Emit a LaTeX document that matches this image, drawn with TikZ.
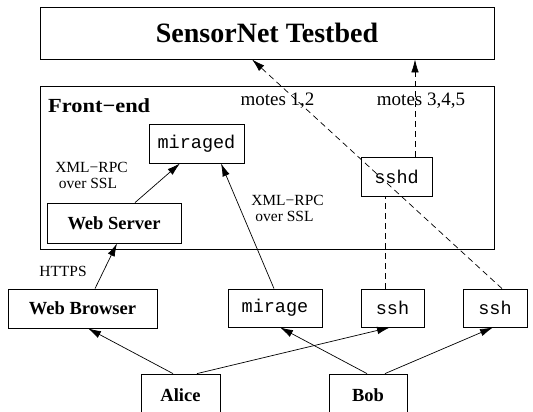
\documentclass[tikz,border=0pt]{standalone}
\usepackage{fontspec}
\setmainfont{Liberation Serif}
\setmonofont{Liberation Mono}
\usetikzlibrary{arrows.meta}
\begin{document}
\begin{tikzpicture}[x=1pt,y=-1pt,
  box/.style={draw, line width=0.8pt, inner sep=0pt},
  bl/.style={font=\fontsize{18.5}{20}\selectfont\bfseries},
  tt/.style={font=\fontsize{18.5}{20}\selectfont\ttfamily},
  lbl/.style={font=\fontsize{15.5}{17}\selectfont, anchor=base, inner sep=0pt},
  mlbl/.style={font=\fontsize{19}{21}\selectfont, anchor=base, inner sep=0pt},
  conn/.style={line width=0.7pt, -{Latex[length=13pt,width=7.5pt]}},
  dsh/.style={line width=0.7pt, dash pattern=on 6pt off 4pt}]
\useasboundingbox (0,0) rectangle (533,412);
\clip (0,0) rectangle (533,412);
\fill[white] (0,0) rectangle (533,412);
% boxes
\node[box, minimum width=454pt, minimum height=52pt, font=\fontsize{28}{30}\selectfont\bfseries] (test) at (267,33) {SensorNet Testbed};
\node[box, minimum width=454pt, minimum height=163pt] (front) at (267,167.5) {};
\node[box, tt, minimum width=95pt, minimum height=39pt] (miraged) at (196.5,143.5) {miraged};
\node[box, tt, minimum width=71pt, minimum height=39pt] (sshd) at (396.5,176.5) {sshd};
\node[box, bl, minimum width=134pt, minimum height=40pt] (ws) at (114,223) {Web Server};
\node[box, bl, minimum width=149pt, minimum height=39pt] (wb) at (82.5,308.5) {Web Browser};
\node[box, tt, minimum width=94pt, minimum height=38pt] (mirage) at (275,308) {mirage};
\node[box, tt, minimum width=63pt, minimum height=38pt] (ssha) at (392.5,308) {ssh};
\node[box, tt, minimum width=64pt, minimum height=38pt] (sshb) at (495,308) {ssh};
\node[box, bl, minimum width=79pt, minimum height=42pt] (alice) at (180.5,395) {Alice};
\node[box, bl, minimum width=78pt, minimum height=42pt] (bob) at (368,395) {Bob};
% labels
\node[anchor=base west, inner sep=0pt, font=\fontsize{20}{22}\selectfont\bfseries] (felbl) at (48,112) {\scalebox{1.12}[1]{Front−end}};
\node[mlbl] (m12) at (277.5,106) {motes 1,2};
\node[mlbl] (m345) at (421,106) {motes 3,4,5};
\node[lbl] (x1a) at (91.5,172) {XML−RPC};
\node[lbl] (x1b) at (88,188) {over SSL};
\node[lbl] (x2a) at (287.5,205) {XML−RPC};
\node[lbl] (x2b) at (284.5,221) {over SSL};
\node[lbl] (https) at (63,276) {HTTPS};
% connectors
\draw[conn] ([xshift=21pt]ws.north) -- ([xshift=-16.5pt]miraged.south);
\draw[conn] ([xshift=12.5pt]wb.north) -- ([xshift=3pt]ws.south);
\draw[conn] ([xshift=-1pt]mirage.north) -- ([xshift=24.5pt]miraged.south);
\draw[dsh] ([xshift=-7.5pt]ssha.north) -- ([xshift=-11.5pt]sshd.south);
\draw[dsh, conn] ([xshift=18.5pt]sshd.north) -- ([xshift=148pt]test.south);
\draw[dsh, conn] ([xshift=7pt]sshb.north) -- ([xshift=-15pt]test.south);
\draw[conn] ([xshift=-7.5pt]alice.north) -- ([xshift=5.5pt]wb.south);
\draw[conn] ([xshift=16.5pt]alice.north) -- ([xshift=-2.5pt]ssha.south);
\draw[conn] ([xshift=-1pt]bob.north) -- ([xshift=5pt]mirage.south);
\draw[conn] ([xshift=17pt]bob.north) -- ([xshift=-2pt]sshb.south);
\end{tikzpicture}
\end{document}
